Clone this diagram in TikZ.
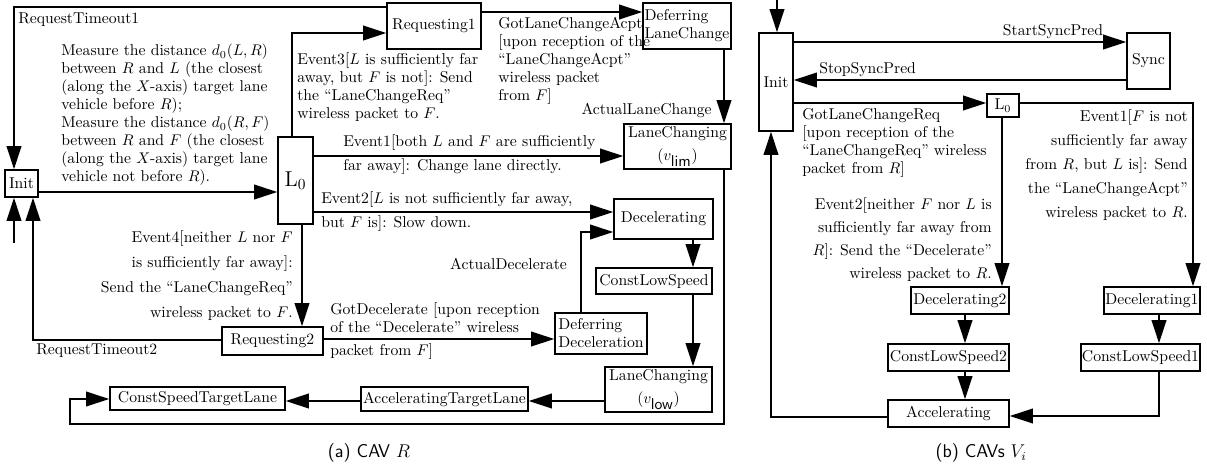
\documentclass[tikz,border=0pt]{standalone}
\usetikzlibrary{arrows.meta}
\begin{document}
\begin{tikzpicture}[x=0.65pt,y=-0.65pt,
  every node/.style={font=\fontsize{10.2}{11.7}\selectfont},
  box/.style={draw, line width=1pt, inner sep=0.5pt, align=center},
  sz/.style 2 args={minimum width=#1*0.65pt, minimum height=#2*0.65pt},
  arr/.style={line width=1.15pt, -{Triangle[length=15pt,width=9.5pt]}},
  lbl/.style={inner sep=0pt},
  wide/.style={font=\fontsize{10.2}{15.6}\selectfont},
  captext/.style={font=\sffamily\fontsize{12}{14}\selectfont}]
\useasboundingbox (0,0) rectangle (1207,465);

% ---------- panel (a): states ----------
\node[box,sz={33}{27}] (initA) at (21.5,183.5) {Init};
\node[box,sz={35}{87},font=\fontsize{14}{16}\selectfont] (L0A) at (295.5,180.5) {L$_0$};
\node[box,sz={94}{46}] (req1) at (434,26) {Requesting1};
\node[box,sz={88}{46},align=left] (defLC) at (687,26) {Deferring\\LaneChange};
\node[box,sz={107}{45}] (lcLim) at (677.5,146.5) {LaneChanging\\[3pt]($v_{\textsf{lim}}$)};
\node[box,sz={99}{40}] (decel) at (663.5,219) {Decelerating};
\node[box,sz={116}{26}] (cls) at (654,281) {ConstLowSpeed};
\node[box,sz={107}{45}] (lcLow) at (658.5,389.5) {LaneChanging\\[3pt]($v_{\textsf{low}}$)};
\node[box,sz={167}{24}] (accTL) at (444.5,399) {AcceleratingTargetLane};
\node[box,sz={175}{23}] (cstTL) at (197.5,398.5) {ConstSpeedTargetLane};
\node[box,sz={92}{41},align=left] (defDec) at (601,333.5) {Deferring\\Deceleration};
\node[box,sz={101}{28}] (req2) at (272.5,341) {Requesting2};

% ---------- panel (a): connectors ----------
\coordinate (rt1) at (14,7);
\draw[arr] (req1.west |- rt1) -- (rt1) -- (rt1 |- initA.north);
\coordinate (st) at (14,243);
\draw[arr] (st) -- (st |- initA.south);
\coordinate (t12) at (0,12);
\draw[arr] (req1.east |- t12) -- (defLC.west |- t12);
\coordinate (e3) at (292,33);
\draw[arr] (e3 |- L0A.north) -- (e3) -- (e3 -| req1.west);
\coordinate (il) at (0,192);
\draw[arr] (initA.east |- il) -- (L0A.west |- il);
\coordinate (e1) at (0,156);
\draw[arr] (L0A.east |- e1) -- (lcLim.west |- e1);
\coordinate (e2) at (0,212);
\draw[arr] (L0A.east |- e2) -- (decel.west |- e2);
\coordinate (alc) at (724,0);
\draw[arr] (defLC.south -| alc) -- (lcLim.north -| alc);
\coordinate (bl) at (70,424);
\coordinate (cs) at (0,399);
\draw[arr] (lcLim.south -| alc) -- (alc |- bl) -- (bl) -- (bl |- cs) -- (cstTL.west |- cs);
\coordinate (e4) at (302,0);
\draw[arr] (L0A.south -| e4) -- (req2.north -| e4);
\coordinate (rt2) at (33,340);
\draw[arr] (req2.west |- rt2) -- (rt2) -- (rt2 |- initA.south);
\coordinate (gd) at (0,339);
\draw[arr] (req2.east |- gd) -- (defDec.west |- gd);
\coordinate (ad) at (581,232);
\draw[arr] (defDec.north -| ad) -- (ad) -- (ad -| decel.west);
\coordinate (dc) at (693,0);
\draw[arr] (decel.south -| dc) -- (cls.north -| dc);
\draw[arr] (cls.south -| dc) -- (lcLow.north -| dc);
\coordinate (lo) at (0,401);
\draw[arr] (lcLow.west |- lo) -- (accTL.east |- lo);
\draw[arr] (accTL.west |- lo) -- (cstTL.east |- lo);

% ---------- panel (a): labels ----------
\node[lbl,anchor=west] (lRT1) at (18,20) {RequestTimeout1};
\node[lbl,anchor=west,align=left] (lMeas) at (61,115) {Measure the distance $d_0(L,R)$\\between $R$ and $L$ (the closest\\(along the $X$-axis) target lane\\vehicle before $R$);\\Measure the distance $d_0(R,F)$\\between $R$ and $F$ (the closest\\(along the $X$-axis) target lane\\vehicle not before $R$).};
\node[lbl,anchor=west,align=left] (lE3) at (297,87) {Event3[$L$ is sufficiently far\\away, but $F$ is not]: Send\\the ``LaneChangeReq''\\wireless packet to $F$.};
\node[lbl,anchor=west,align=left] (lGLA) at (498,61) {GotLaneChangeAcpt\\{[}upon reception of the\\``LaneChangeAcpt''\\wireless packet\\from $F$]};
\node[lbl,anchor=east] (lALC) at (712,110) {ActualLaneChange};
\node[lbl,anchor=west,align=left,wide] (lE1) at (343,155) {Event1[both $L$ and $F$ are sufficiently\\far away]: Change lane directly.};
\node[lbl,anchor=west,align=left,wide] (lE2) at (321,212) {Event2[$L$ is not sufficiently far away,\\but $F$ is]: Slow down.};
\node[lbl,anchor=east,align=right,font=\fontsize{10.2}{16.25}\selectfont] (lE4) at (293,275.5) {Event4[neither $L$ nor $F$\\is sufficiently far away]:\\Send the ``LaneChangeReq''\\wireless packet to $F$.};
\node[lbl,anchor=west] (lRT2) at (36,351) {RequestTimeout2};
\node[lbl,anchor=west,align=left] (lGD) at (330,331.5) {GotDecelerate [upon reception\\of the ``Decelerate'' wireless\\[3.3pt]packet from $F$]};
\node[lbl] (lAD) at (508.5,264) {ActualDecelerate};
\node[lbl,captext] (capA) at (369,453) {(a) CAV $R$};

% ---------- panel (b): states ----------
\node[box,sz={34}{98}] (initB) at (776,82) {Init};
\node[box,sz={43}{56}] (sync) at (1148.5,61) {Sync};
\node[box,sz={32}{23}] (L0B) at (1003,105.5) {L$_0$};
\node[box,sz={98}{27}] (dec2) at (960,300.5) {Decelerating2};
\node[box,sz={121}{27}] (cls2) at (948.5,357.5) {ConstLowSpeed2};
\node[box,sz={121}{27}] (acc) at (948.5,413.5) {Accelerating};
\node[box,sz={96}{27}] (dec1) at (1152,300.5) {Decelerating1};
\node[box,sz={119}{27}] (cls1) at (1140.5,357.5) {ConstLowSpeed1};

% ---------- panel (b): connectors ----------
\coordinate (sB) at (777,0);
\draw[arr] (sB) -- (sB |- initB.north);
\coordinate (ss) at (0,42);
\draw[arr] (initB.east |- ss) -- (sync.west |- ss);
\coordinate (sp) at (0,80);
\draw[arr] (sync.west |- sp) -- (initB.east |- sp);
\coordinate (gr) at (0,103);
\draw[arr] (initB.east |- gr) -- (L0B.west |- gr);
\coordinate (e1b) at (1193,103);
\draw[arr] (L0B.east |- e1b) -- (e1b) -- (e1b |- dec1.north);
\coordinate (e2b) at (1002,0);
\draw[arr] (L0B.south -| e2b) -- (dec2.north -| e2b);
\coordinate (d2) at (965,0);
\draw[arr] (dec2.south -| d2) -- (cls2.north -| d2);
\draw[arr] (cls2.south -| d2) -- (acc.north -| d2);
\coordinate (d1) at (1159,416);
\draw[arr] (dec1.south -| d1) -- (cls1.north -| d1);
\draw[arr] (cls1.south -| d1) -- (d1) -- (acc.east |- d1);
\coordinate (ab) at (771,417);
\draw[arr] (acc.west |- ab) -- (ab) -- (ab |- initB.south);

% ---------- panel (b): labels ----------
\node[lbl] (lSS) at (1053,32) {StartSyncPred};
\node[lbl,anchor=west] (lSP) at (819,70) {StopSyncPred};
\node[lbl,anchor=west,align=left] (lGR) at (802,142.5) {GotLaneChangeReq\\{[}upon reception of the\\``LaneChangeReq'' wireless\\packet from $R$]};
\node[lbl,anchor=east,align=right,wide] (lE1b) at (1188,165.5) {Event1[$F$ is not\\sufficiently far away\\from $R$, but $L$ is]: Send\\the ``LaneChangeAcpt''\\wireless packet to $R$.};
\node[lbl,anchor=east,align=right,font=\fontsize{10.2}{15}\selectfont] (lE2b) at (992,240) {Event2[neither $F$ nor $L$ is\\sufficiently far away from\\$R$]: Send the ``Decelerate''\\wireless packet to $R$.};
\node[lbl,captext] (capB) at (981,453) {(b) CAVs $V_i$};
\end{tikzpicture}
\end{document}
